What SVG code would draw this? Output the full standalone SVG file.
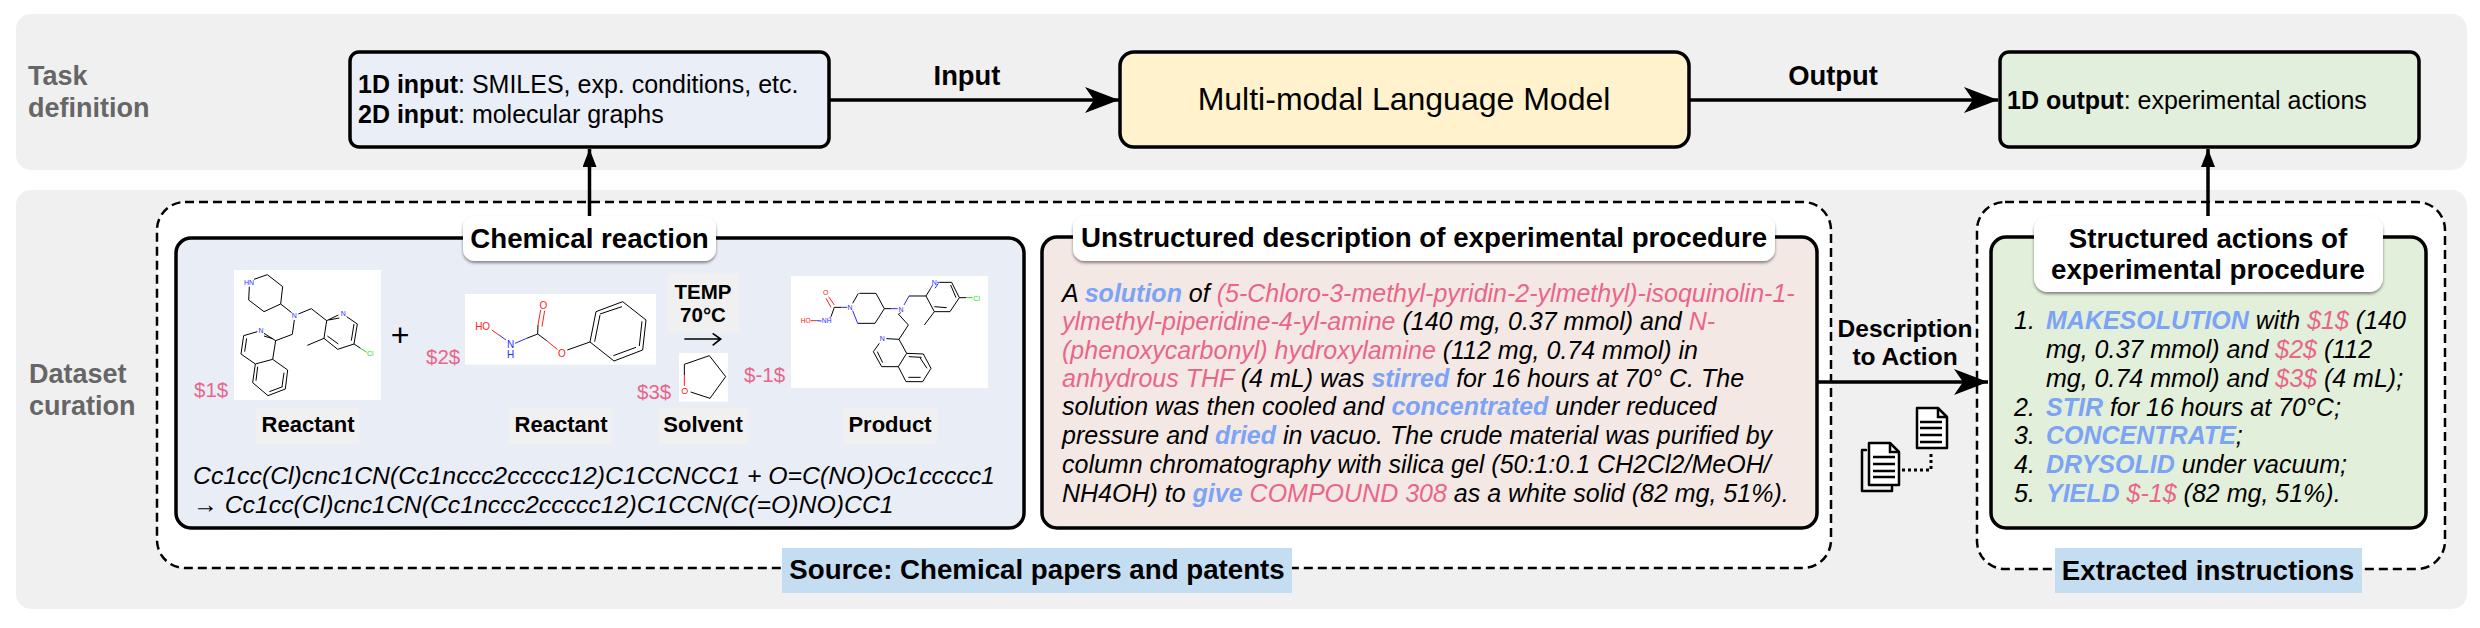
<svg xmlns="http://www.w3.org/2000/svg" width="2480" height="628" viewBox="0 0 2480 628">
<style>
text{font-family:"Liberation Sans",Arial,sans-serif;fill:#000}
.b{font-weight:700}
.i{font-style:italic;font-size:25px}
.sm{font-style:italic;font-size:24.800px}
.t{font-weight:700;font-size:27.700px}
.m{font-size:25px}
.h{font-weight:700;font-size:27.400px}
.d{font-weight:700;font-size:24.500px}
.g{font-weight:700;font-size:27px;fill:#666}
.c{text-anchor:middle}
.r{fill:#E8668A}
.a{fill:#7CA3F5;font-weight:700}
.box{stroke:#000;stroke-width:3.5}
.dash{fill:#fff;stroke:#000;stroke-width:2.5;stroke-dasharray:9 5}
.lab{fill:#fff;filter:url(#sh)}
.gr{fill:#F0F0F0}
.bl{fill:#C5DDF0}
.line{fill:none;stroke:#000;stroke-width:3.5}
.k{fill:none;stroke:#000;stroke-width:3}
.n{fill:none;stroke:#2a2aff;stroke-width:3}
.o{fill:none;stroke:#ff2020;stroke-width:3}
.cl{fill:none;stroke:#22dd22;stroke-width:3}
.mol text{font-size:30px;text-anchor:middle}
.mb{fill:#2a2aff}.mr{fill:#ff2020}.mg{fill:#22dd22}
.w{fill:#fff}
.s{font-size:20.500px}
.lb{font-weight:700;font-size:22px;text-anchor:middle}
.ic{fill:#fff;stroke:#000;stroke-width:2.5;stroke-linejoin:round;stroke-linecap:round}
.rule{stroke:#000;stroke-width:2.5;fill:none}
</style>
<defs>
<filter id="sh" x="-5%" y="-15%" width="110%" height="135%"><feDropShadow dx="0" dy="2" stdDeviation="1.5" flood-color="#000" flood-opacity=".45"/></filter>
<marker id="big" markerUnits="userSpaceOnUse" markerWidth="36" markerHeight="28" refX="34" refY="13" orient="auto"><path d="M0 0L34 13L0 26L9 13Z" fill="#000"/></marker>
<marker id="sm" markerUnits="userSpaceOnUse" markerWidth="20" markerHeight="16" refX="18" refY="7" orient="auto"><path d="M0 0L18 7L0 14Z" fill="#000"/></marker>
</defs>
<g id="panels">
<rect x="16" y="14" width="2451" height="156" rx="15" class="gr"/>
<rect x="16" y="190" width="2451" height="419" rx="15" class="gr"/>
<text class="g" x="28" y="85">Task</text><text class="g" x="28" y="117">definition</text>
<text class="g" x="29" y="383">Dataset</text><text class="g" x="29" y="415">curation</text>
</g>
<g id="source-frame"><rect x="157" y="202" width="1674" height="366" rx="28" class="dash"/></g>
<g id="extract-frame"><rect x="1977" y="202" width="468" height="367" rx="28" class="dash"/></g>
<g id="input-node"><rect x="350" y="52" width="479" height="95" rx="9" fill="#EAEEF7" class="box"/>
<text class="m" x="358" y="93"><tspan class="b">1D input</tspan>: SMILES, exp. conditions, etc.</text>
<text class="m" x="358" y="123"><tspan class="b">2D input</tspan>: molecular graphs</text></g>
<g id="model-node"><rect x="1120" y="52" width="569" height="95" rx="14" fill="#FFF2CC" class="box"/>
<text class="c" x="1404" y="110" font-size="32">Multi-modal Language Model</text></g>
<g id="output-node"><rect x="2000" y="52" width="419" height="95" rx="9" fill="#E1EFDC" class="box"/>
<text class="m" x="2007" y="109"><tspan class="b">1D output</tspan>: experimental actions</text></g>
<g id="connectors">
<path d="M829 100H1119" class="line" marker-end="url(#big)"/>
<path d="M1689 100H1998" class="line" marker-end="url(#big)"/>
<path d="M589.500 217V149" class="line" marker-end="url(#sm)"/>
<path d="M2208 217V149" class="line" marker-end="url(#sm)"/>
<path d="M1817 382H1988" class="line" marker-end="url(#big)"/>
<text class="h c" x="967" y="85">Input</text>
<text class="h c" x="1833" y="85">Output</text>
<text class="d c" x="1905" y="337">Description</text>
<text class="d c" x="1905" y="365">to Action</text>
</g>
<g id="chemical-reaction">
<rect x="176" y="238" width="848" height="290" rx="15" fill="#E9EDF6" class="box"/>
<rect x="463" y="216" width="253" height="45" rx="12" class="lab"/>
<text class="t c" x="589.500" y="248">Chemical reaction</text>
<g class="mol" transform="translate(150 190) scale(.33333)">
<rect x="252" y="240" width="441" height="390" class="w"/>
<rect x="945" y="312" width="573" height="212" class="w"/>
<path class="k" d="M312 268L352 254L398 290L392 342L342 365L296 330L298 290M392 342L425 368M445 372L484 356L530 392L565 375M590 380L622 402L612 462L563 478L522 445L530 392M536 390L568 384M612 402L604 452M565 462L532 438M522 445L472 466M612 462L632 475M433 390L427 433L377 452L342 430M377 452L368 508L316 522L273 492L281 437L322 425M290 445L284 485M342 438L368 446M368 508L413 540L406 597L354 617L308 578L316 522M402 548L396 590M358 605L398 590M318 572L323 530"/>
<path class="cl" d="M632 475L650 487"/>
<text class="mb" x="297" y="285" style="font-size:21px">HN</text><text class="mb" x="433" y="385" style="font-size:21px">N</text><text class="mb" x="580" y="378" style="font-size:21px">N</text><text class="mb" x="333" y="429" style="font-size:21px">N</text><text class="mg" x="661" y="499" style="font-size:21px">Cl</text>
<text class="mr" x="998" y="421">HO</text><text class="mb" x="1082" y="475">N</text><text class="mb" x="1082" y="505">H</text><text class="mr" x="1180" y="356">O</text><text class="mr" x="1236" y="500">O</text>
<path class="o" d="M1025 420L1047 435M1164 405L1172 360M1176 410L1184 362M1190 452L1222 478"/>
<path class="n" d="M1047 435L1068 450M1095 460L1130 445"/>
<path class="k" d="M1130 445L1163 432L1164 405M1163 432L1190 452M1252 480L1320 456L1338 365L1418 335L1488 390L1478 480L1392 513L1320 456M1350 372L1416 350M1476 394L1468 468M1390 497L1458 472M1334 455L1350 375"/>
</g>
<g class="mol" transform="translate(600 190) scale(.33333)">
<rect x="237" y="489" width="147" height="146" class="w"/>
<rect x="573" y="258" width="591" height="336" class="w"/>
<rect x="202" y="250" width="215" height="178" class="gr"/>
<path d="M253 447H360M338 430L362 447L338 466" fill="none" stroke="#000" stroke-width="5"/>
<path class="k" d="M253 555V523L328 497L377 560L330 625L272 606"/>
<path class="o" d="M253 555V588"/>
<text class="mr" x="254" y="612" style="font-size:27px">O</text>
<path class="k" d="M703 352L725 352M778 310L828 310L853 356L825 400L773 400M775 310L758 340M853 356L875 356M927 318L978 318L1003 365L1050 365L1078 323L1055 277L1020 277M978 318L992 295M1003 350L1040 353M1052 285L1068 323M1003 365L973 405M1078 323L1098 323M895 372L925 405L897 448L860 446M897 448L920 490L895 530L845 530L820 485L838 460M832 485L848 518M895 530L918 575L968 575L993 535L970 492L920 490M925 562L962 562M981 535L960 503M926 500L965 502M703 352L693 380"/>
<path class="o" d="M703 345L686 320M693 352L678 325M632 392L650 392"/>
<path class="n" d="M725 352L742 352M758 362L773 400M875 356L893 356M903 368L895 372M912 345L927 318M650 392L665 393M693 380L688 385"/>
<path class="n" d="M992 295L998 285M1005 295L1015 280M1020 277H1012M860 446L858 446"/>
<path class="cl" d="M1098 323H1118"/>
<text class="mr" x="617" y="399" style="font-size:20px">HO</text><text class="mb" x="680" y="400" style="font-size:20px">NH</text><text class="mr" x="677" y="315" style="font-size:21px">O</text><text class="mb" x="750" y="360" style="font-size:21px">N</text><text class="mb" x="903" y="366" style="font-size:21px">N</text><text class="mb" x="1003" y="285" style="font-size:21px">N</text><text class="mb" x="847" y="453" style="font-size:21px">N</text><text class="mg" x="1130" y="332" style="font-size:21px">Cl</text>
</g>
<text class="lb" x="703" y="299" style="font-size:20.500px">TEMP</text>
<text class="lb" x="703" y="322" style="font-size:20.500px">70°C</text>
<text class="c" x="400" y="346" font-size="32">+</text>
<text class="s r" x="194" y="397">$1$</text><text class="s r" x="426" y="364">$2$</text><text class="s r" x="637" y="399">$3$</text><text class="s r" x="744" y="382">$-1$</text>
<rect x="256" y="408" width="103" height="36" class="gr"/><rect x="509" y="408" width="103" height="36" class="gr"/><rect x="658" y="408" width="90" height="36" class="gr"/><rect x="843" y="408" width="94" height="36" class="gr"/>
<text class="lb" x="308" y="432">Reactant</text><text class="lb" x="561" y="432">Reactant</text><text class="lb" x="703" y="432">Solvent</text><text class="lb" x="890" y="432">Product</text>
<text class="sm" x="193" y="484">Cc1cc(Cl)cnc1CN(Cc1nccc2ccccc12)C1CCNCC1 + O=C(NO)Oc1ccccc1</text>
<text class="sm" x="193" y="513">→ Cc1cc(Cl)cnc1CN(Cc1nccc2ccccc12)C1CCN(C(=O)NO)CC1</text>
</g>
<g id="description">
<rect x="1042" y="237" width="775" height="291" rx="15" fill="#F3E8E4" class="box"/>
<rect x="1073" y="216" width="702" height="45" rx="12" class="lab"/>
<text class="t c" x="1424" y="247">Unstructured description of experimental procedure</text>
<text class="i" x="1062" y="302">A <tspan class="a">solution</tspan> of <tspan class="r">(5-Chloro-3-methyl-pyridin-2-ylmethyl)-isoquinolin-1-</tspan></text>
<text class="i" x="1062" y="330"><tspan class="r">ylmethyl-piperidine-4-yl-amine</tspan> (140 mg, 0.37 mmol) and <tspan class="r">N-</tspan></text>
<text class="i" x="1062" y="359"><tspan class="r">(phenoxycarbonyl) hydroxylamine</tspan> (112 mg, 0.74 mmol) in</text>
<text class="i" x="1062" y="387"><tspan class="r">anhydrous THF</tspan> (4 mL) was <tspan class="a">stirred</tspan> for 16 hours at 70° C. The</text>
<text class="i" x="1062" y="415">solution was then cooled and <tspan class="a">concentrated</tspan> under reduced</text>
<text class="i" x="1062" y="444">pressure and <tspan class="a">dried</tspan> in vacuo. The crude material was purified by</text>
<text class="i" x="1062" y="473">column chromatography with silica gel (50:1:0.1 CH2Cl2/MeOH/</text>
<text class="i" x="1062" y="502">NH4OH) to <tspan class="a">give</tspan> <tspan class="r">COMPOUND 308</tspan> as a white solid (82 mg, 51%).</text>
</g>
<g id="structured">
<rect x="1991" y="237" width="435" height="291" rx="15" fill="#E2EFDA" class="box"/>
<rect x="2034" y="216" width="349" height="76" rx="14" class="lab"/>
<text class="t c" x="2208" y="248">Structured actions of</text>
<text class="t c" x="2208" y="279">experimental procedure</text>
<text class="i" x="2014" y="329">1.</text><text class="i" x="2046" y="329"><tspan class="a">MAKESOLUTION</tspan> with <tspan class="r">$1$</tspan> (140</text>
<text class="i" x="2046" y="358">mg, 0.37 mmol) and <tspan class="r">$2$</tspan> (112</text>
<text class="i" x="2046" y="387">mg, 0.74 mmol) and <tspan class="r">$3$</tspan> (4 mL);</text>
<text class="i" x="2014" y="416">2.</text><text class="i" x="2046" y="416"><tspan class="a">STIR</tspan> for 16 hours at 70°C;</text>
<text class="i" x="2014" y="444">3.</text><text class="i" x="2046" y="444"><tspan class="a">CONCENTRATE</tspan>;</text>
<text class="i" x="2014" y="473">4.</text><text class="i" x="2046" y="473"><tspan class="a">DRYSOLID</tspan> under vacuum;</text>
<text class="i" x="2014" y="502">5.</text><text class="i" x="2046" y="502"><tspan class="a">YIELD</tspan> <tspan class="r">$-1$</tspan> (82 mg, 51%).</text>
</g>
<g id="source-label"><rect x="782" y="548" width="510" height="45" class="bl"/><text class="t c" x="1037" y="579">Source: Chemical papers and patents</text></g>
<g id="extract-label"><rect x="2055" y="548" width="307" height="45" class="bl"/><text class="t c" x="2208" y="580">Extracted instructions</text></g>
<g id="doc-icons">
<path class="ic" d="M1917 408H1938L1947 417V448H1917Z"/><path class="rule" d="M1938 408V417H1947M1920 422H1942M1920 428H1942M1920 435H1942M1920 442H1942"/>
<path class="ic" d="M1866 450H1862V491H1892V487" fill="none" style="fill:none"/>
<path class="ic" d="M1869 443H1890L1899 452V485H1869Z"/><path class="rule" d="M1890 443V452H1899M1873 457H1895M1873 464H1895M1873 471H1895M1873 477H1895"/>
<path d="M1902 470H1931V452" fill="none" stroke="#000" stroke-width="3" stroke-dasharray="3 3"/>
</g>
</svg>
